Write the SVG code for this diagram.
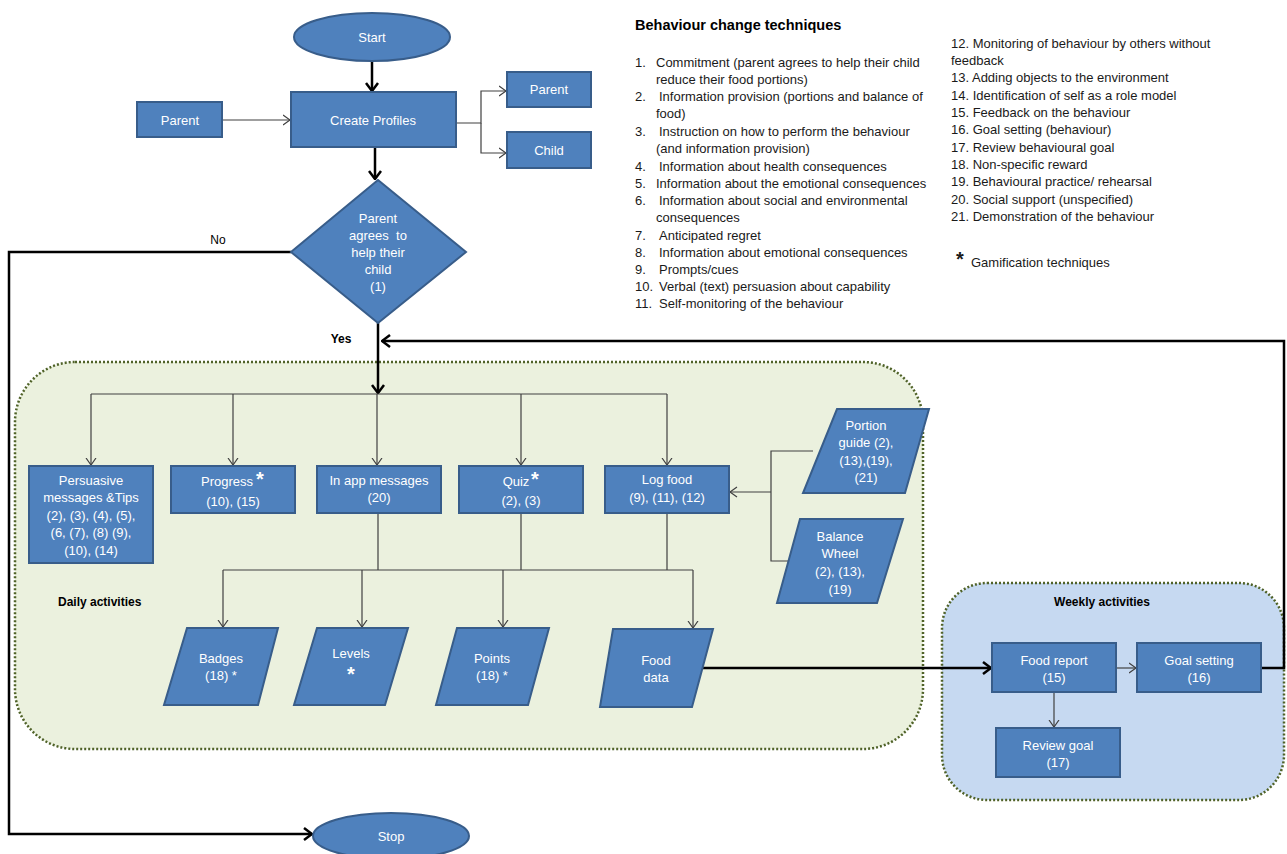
<svg xmlns="http://www.w3.org/2000/svg" width="1287" height="854" viewBox="0 0 1287 854">
<style>
.nd{fill:#4f81bd;stroke:#385d8a;stroke-width:2}
.nt{font-family:"Liberation Sans",Arial,sans-serif;font-size:13px;fill:#fff;text-anchor:middle;white-space:pre}
.lb{font-family:"Liberation Sans",Arial,sans-serif;font-size:12px;fill:#000}
.b{font-weight:bold}
.ls{font-family:"Liberation Sans",Arial,sans-serif;font-size:13px;fill:#1a1a1a;white-space:pre}
.ast{font-family:"Liberation Sans",Arial,sans-serif;font-size:20px;font-weight:bold;fill:#fff;text-anchor:middle}
.thick{fill:none;stroke:#000;stroke-width:2.5}
.thin{fill:none;stroke:#404040;stroke-width:1.2}
.rg{stroke:#4f6228;stroke-width:2.5;stroke-dasharray:2 2}
</style>
<defs>
<marker id="ak" viewBox="0 0 10 14" refX="9" refY="7" markerWidth="10" markerHeight="14" orient="auto" markerUnits="userSpaceOnUse"><path d="M1,1 L9,7 L1,13" fill="none" stroke="#000" stroke-width="2.5"/></marker>
<marker id="an" viewBox="0 0 8 12" refX="7.5" refY="6" markerWidth="8" markerHeight="12" orient="auto" markerUnits="userSpaceOnUse"><path d="M0.5,1 L7.5,6 L0.5,11" fill="none" stroke="#404040" stroke-width="1.2"/></marker>
</defs>

<g id="daily-region">
<rect x="15" y="362" width="908" height="387" rx="60" fill="#ebf1de" class="rg"/>
<text x="58" y="606" class="lb b">Daily activities</text>
</g>
<g id="weekly-region">
<rect x="942" y="583" width="342" height="217" rx="45" fill="#c6d9f1" class="rg"/>
<text x="1102" y="606" class="lb b" text-anchor="middle">Weekly activities</text>
</g>

<g id="connectors">
<path class="thick" d="M372,61 V91" marker-end="url(#ak)"/>
<path class="thick" d="M375,147 V179" marker-end="url(#ak)"/>
<path class="thick" d="M378,323 V393" marker-end="url(#ak)"/>
<path class="thick" d="M291,252 H9 V834 H312" marker-end="url(#ak)"/>
<path class="thick" d="M703,668 H991" marker-end="url(#ak)"/>
<path class="thick" d="M1261,668 H1284 V341 H382" marker-end="url(#ak)"/>
<path class="thin" d="M222,120 H290" marker-end="url(#an)"/>
<path class="thin" d="M456,123 H481 V91 H506" marker-end="url(#an)"/>
<path class="thin" d="M481,123 V153 H506" marker-end="url(#an)"/>
<path class="thin" d="M91,394 H667"/>
<path class="thin" d="M91,394 V465" marker-end="url(#an)"/>
<path class="thin" d="M233,394 V465" marker-end="url(#an)"/>
<path class="thin" d="M377,394 V465" marker-end="url(#an)"/>
<path class="thin" d="M521,394 V465" marker-end="url(#an)"/>
<path class="thin" d="M667,394 V465" marker-end="url(#an)"/>
<path class="thin" d="M813,451 H771 V561 H788"/>
<path class="thin" d="M771,492 H730" marker-end="url(#an)"/>
<path class="thin" d="M378,513 V570 M521,513 V570 M667,513 V570 M223,570 H693"/>
<path class="thin" d="M223,570 V627" marker-end="url(#an)"/>
<path class="thin" d="M362,570 V627" marker-end="url(#an)"/>
<path class="thin" d="M503,570 V627" marker-end="url(#an)"/>
<path class="thin" d="M693,570 V628" marker-end="url(#an)"/>
<path class="thin" d="M1116,668 H1136" marker-end="url(#an)"/>
<path class="thin" d="M1054,692 V727" marker-end="url(#an)"/>
<text x="218" y="244" class="lb" text-anchor="middle">No</text>
<text x="341" y="343" class="lb b" text-anchor="middle">Yes</text>
</g>

<g id="start"><ellipse cx="372" cy="37" rx="78" ry="24" class="nd"/><text x="372" y="41.5" class="nt">Start</text></g>
<g id="create-profiles"><rect x="291" y="92" width="165" height="55" class="nd"/><text x="373" y="124.5" class="nt">Create Profiles</text></g>
<g id="parent-in"><rect x="137" y="102" width="85" height="35" class="nd"/><text x="180" y="124.5" class="nt">Parent</text></g>
<g id="parent-out"><rect x="507" y="72" width="84" height="35" class="nd"/><text x="549" y="94" class="nt">Parent</text></g>
<g id="child-out"><rect x="507" y="132" width="84" height="36" class="nd"/><text x="549" y="154.5" class="nt">Child</text></g>
<g id="decision"><polygon points="378,180 466,252 378,323 291,252" class="nd"/>
<text class="nt"><tspan x="378" y="222.5">Parent</tspan><tspan x="378" y="239.5">agrees  to</tspan><tspan x="378" y="256.5">help their</tspan><tspan x="378" y="274">child</tspan><tspan x="378" y="291">(1)</tspan></text></g>
<g id="stop"><ellipse cx="391" cy="836" rx="78" ry="23" class="nd"/><text x="391" y="840.5" class="nt">Stop</text></g>

<g id="persuasive"><rect x="29" y="466" width="124" height="97" class="nd"/>
<text class="nt"><tspan x="91" y="484.5">Persuasive</tspan><tspan x="91" y="501.5">messages &amp;Tips</tspan><tspan x="91" y="519.5">(2), (3), (4), (5),</tspan><tspan x="91" y="536.5">(6, (7), (8) (9),</tspan><tspan x="91" y="554.5">(10), (14)</tspan></text></g>
<g id="progress"><rect x="171" y="466" width="124" height="47" class="nd"/>
<text class="nt"><tspan x="227" y="485.5">Progress</tspan><tspan x="233" y="505.5">(10), (15)</tspan></text><text x="260" y="486" class="ast">*</text></g>
<g id="in-app"><rect x="317" y="466" width="124" height="47" class="nd"/>
<text class="nt"><tspan x="379" y="484.5">In app messages</tspan><tspan x="379" y="501.5">(20)</tspan></text></g>
<g id="quiz"><rect x="459" y="466" width="124" height="47" class="nd"/>
<text class="nt"><tspan x="516" y="485.5">Quiz</tspan><tspan x="521" y="504.5">(2), (3)</tspan></text><text x="535" y="486" class="ast">*</text></g>
<g id="log-food"><rect x="605" y="466" width="124" height="47" class="nd"/>
<text class="nt"><tspan x="667" y="483.5">Log food</tspan><tspan x="667" y="501.5">(9), (11), (12)</tspan></text></g>
<g id="portion-guide"><polygon points="837,409 929,409 905,493 803,493" class="nd"/>
<text class="nt"><tspan x="866" y="429.5">Portion</tspan><tspan x="866" y="446.5">guide (2),</tspan><tspan x="866" y="464.5">(13),(19),</tspan><tspan x="866" y="481.5">(21)</tspan></text></g>
<g id="balance-wheel"><polygon points="800,519 903,519 877,603 777,603" class="nd"/>
<text class="nt"><tspan x="840" y="540.5">Balance</tspan><tspan x="840" y="557.5">Wheel</tspan><tspan x="840" y="575.5">(2), (13),</tspan><tspan x="840" y="593.5">(19)</tspan></text></g>

<g id="badges"><polygon points="187,628 278,628 258,705 164,705" class="nd"/>
<text class="nt"><tspan x="221" y="662.5">Badges</tspan><tspan x="221" y="679.5">(18) *</tspan></text></g>
<g id="levels"><polygon points="317,628 408,628 385,705 294,705" class="nd"/>
<text class="nt"><tspan x="351" y="657.5">Levels</tspan></text><text x="351" y="681" class="ast">*</text></g>
<g id="points"><polygon points="457,628 549,628 528,705 436,705" class="nd"/>
<text class="nt"><tspan x="492" y="662.5">Points</tspan><tspan x="492" y="679.5">(18) *</tspan></text></g>
<g id="food-data"><polygon points="613,629 713,629 692,707 600,707" class="nd"/>
<text class="nt"><tspan x="656" y="664.5">Food</tspan><tspan x="656" y="681.5">data</tspan></text></g>

<g id="food-report"><rect x="992" y="643" width="124" height="49" class="nd"/>
<text class="nt"><tspan x="1054" y="664.5">Food report</tspan><tspan x="1054" y="681.5">(15)</tspan></text></g>
<g id="goal-setting"><rect x="1137" y="643" width="124" height="49" class="nd"/>
<text class="nt"><tspan x="1199" y="664.5">Goal setting</tspan><tspan x="1199" y="681.5">(16)</tspan></text></g>
<g id="review-goal"><rect x="996" y="728" width="124" height="49" class="nd"/>
<text class="nt"><tspan x="1058" y="749.5">Review goal</tspan><tspan x="1058" y="766.5">(17)</tspan></text></g>

<g id="legend">
<text x="635" y="30" font-family="Liberation Sans,Arial,sans-serif" font-size="14.5" font-weight="bold" fill="#000">Behaviour change techniques</text>
<g class="ls">
<text x="635" y="67">1.</text><text x="656" y="67">Commitment  (parent agrees to help their child</text>
<text x="656" y="84">reduce their food portions)</text>
<text x="635" y="101">2.</text><text x="659" y="101">Information provision (portions and balance of</text>
<text x="656" y="118">food)</text>
<text x="635" y="136">3.</text><text x="659" y="136">Instruction on how to perform the behaviour</text>
<text x="656" y="153">(and information  provision)</text>
<text x="635" y="171">4.</text><text x="659" y="171">Information about health consequences</text>
<text x="635" y="188">5.</text><text x="656" y="188">Information about the emotional consequences</text>
<text x="635" y="205">6.</text><text x="659" y="205">Information about social and environmental</text>
<text x="656" y="222">consequences</text>
<text x="635" y="240">7.</text><text x="659" y="240">Anticipated regret</text>
<text x="635" y="257">8.</text><text x="659" y="257">Information about emotional consequences</text>
<text x="635" y="274">9.</text><text x="659" y="274">Prompts/cues</text>
<text x="635" y="291">10.</text><text x="659" y="291">Verbal  (text) persuasion about capability</text>
<text x="635" y="308">11.</text><text x="659" y="308">Self-monitoring of the behaviour</text>
<text x="951" y="48">12. Monitoring  of behaviour by others without</text>
<text x="951" y="65">feedback</text>
<text x="951" y="82">13.  Adding objects to the environment</text>
<text x="951" y="100">14.  Identification of self as a role model</text>
<text x="951" y="117">15. Feedback on the behaviour</text>
<text x="951" y="134">16. Goal setting (behaviour)</text>
<text x="951" y="152">17. Review behavioural  goal</text>
<text x="951" y="169">18. Non-specific reward</text>
<text x="951" y="186">19. Behavioural practice/ rehearsal</text>
<text x="951" y="204">20.  Social support (unspecified)</text>
<text x="951" y="221">21. Demonstration of the behaviour</text>
<text x="956" y="266" font-size="20" font-weight="bold">*</text>
<text x="971" y="267">Gamification techniques</text>
</g>
</g>
</svg>
